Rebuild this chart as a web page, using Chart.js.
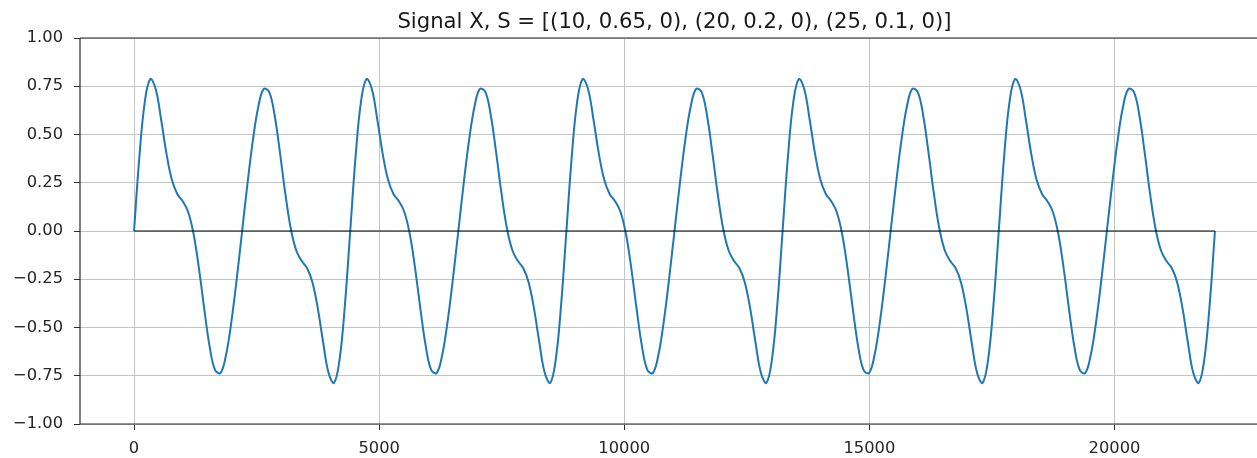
<!DOCTYPE html>
<html><head><meta charset="utf-8">
<script src="https://cdn.jsdelivr.net/npm/chart.js@4"></script>
<style>
html,body{margin:0;padding:0;background:#fff;overflow:hidden;width:1257px;height:458px}
#wrap{position:absolute;left:0;top:0;width:1275px;height:458px}
canvas{display:block}
</style></head>
<body><div id="wrap"><canvas id="c" width="1275" height="458" style="width:1275px;height:458px"></canvas></div>
<script>
const titleText = 'Signal X, S = [(10, 0.65, 0), (20, 0.2, 0), (25, 0.1, 0)]';
const sampleStep = 110.25; // samples between listed readings
const signalValues = [
0,0.389,0.672,0.787,0.736,0.579,0.401,0.265,0.192,0.154,0.100,-0.013,-0.192,-0.406,-0.601,-0.721,-0.736,-0.645,-0.472,-0.248,
0,0.248,0.472,0.645,0.736,0.721,0.601,0.406,0.192,0.013,-0.100,-0.154,-0.192,-0.265,-0.401,-0.579,-0.736,-0.787,-0.672,-0.389,
0,0.389,0.672,0.787,0.736,0.579,0.401,0.265,0.192,0.154,0.100,-0.013,-0.192,-0.406,-0.601,-0.721,-0.736,-0.645,-0.472,-0.248,
0,0.248,0.472,0.645,0.736,0.721,0.601,0.406,0.192,0.013,-0.100,-0.154,-0.192,-0.265,-0.401,-0.579,-0.736,-0.787,-0.672,-0.389,
0,0.389,0.672,0.787,0.736,0.579,0.401,0.265,0.192,0.154,0.100,-0.013,-0.192,-0.406,-0.601,-0.721,-0.736,-0.645,-0.472,-0.248,
0,0.248,0.472,0.645,0.736,0.721,0.601,0.406,0.192,0.013,-0.100,-0.154,-0.192,-0.265,-0.401,-0.579,-0.736,-0.787,-0.672,-0.389,
0,0.389,0.672,0.787,0.736,0.579,0.401,0.265,0.192,0.154,0.100,-0.013,-0.192,-0.406,-0.601,-0.721,-0.736,-0.645,-0.472,-0.248,
0,0.248,0.472,0.645,0.736,0.721,0.601,0.406,0.192,0.013,-0.100,-0.154,-0.192,-0.265,-0.401,-0.579,-0.736,-0.787,-0.672,-0.389,
0,0.389,0.672,0.787,0.736,0.579,0.401,0.265,0.192,0.154,0.100,-0.013,-0.192,-0.406,-0.601,-0.721,-0.736,-0.645,-0.472,-0.248,
0,0.248,0.472,0.645,0.736,0.721,0.601,0.406,0.192,0.013,-0.100,-0.154,-0.192,-0.265,-0.401,-0.579,-0.736,-0.787,-0.672,-0.389,
0
];
const zeroLineX = [0, 22050];
const zeroLineY = [0, 0];
const xTickValues = [0, 5000, 10000, 15000, 20000];
const yTickValues = [-1, -0.75, -0.5, -0.25, 0, 0.25, 0.5, 0.75, 1];
const xMin = -1102.5, xMax = 23152.5;

const signalPoints = signalValues.map((v, i) => ({x: i * sampleStep, y: v}));
const zeroPoints = zeroLineX.map((x, i) => ({x: x, y: zeroLineY[i]}));

const decor = {
  id: 'decor',
  afterDatasetsDraw(chart) {
    const {ctx, chartArea: a} = chart;
    ctx.save();
    ctx.strokeStyle = '#2b2b2b';
    ctx.lineWidth = 1.2;
    ctx.beginPath();
    ctx.moveTo(a.left, a.top); ctx.lineTo(a.right, a.top);
    ctx.moveTo(a.left, a.top); ctx.lineTo(a.left, a.bottom);
    ctx.moveTo(a.left, a.bottom); ctx.lineTo(a.right, a.bottom);
    ctx.moveTo(a.right, a.top); ctx.lineTo(a.right, a.bottom);
    ctx.stroke();
    ctx.fillStyle = '#1a1a1a';
    ctx.font = '21.2px "DejaVu Sans"';
    ctx.textAlign = 'center';
    ctx.textBaseline = 'alphabetic';
    ctx.fillText(titleText, (a.left + a.right) / 2, 28);
    ctx.restore();
  }
};

const tickFont = {family: 'DejaVu Sans', size: 16.3};
new Chart(document.getElementById('c'), {
  type: 'line',
  data: {
    datasets: [
      {data: zeroPoints, borderColor: '#000', borderWidth: 1.2, pointRadius: 0, tension: 0},
      {data: signalPoints, borderColor: '#1f77b4', borderWidth: 2, pointRadius: 0, tension: 0.4}
    ]
  },
  options: {
    responsive: false,
    animation: false,
    devicePixelRatio: 1,
    layout: {padding: {left: 0, right: 6, top: 38, bottom: 0}},
    plugins: {
      legend: {display: false},
      tooltip: {enabled: false},
      title: {display: false}
    },
    scales: {
      x: {
        type: 'linear', min: xMin, max: xMax,
        afterBuildTicks: s => { s.ticks = xTickValues.map(v => ({value: v})); },
        afterFit: s => { s.height = 34; },
        ticks: {font: tickFont, color: '#262626', padding: 9, maxRotation: 0,
          callback: v => String(v)},
        grid: {color: '#c4c4c4', lineWidth: 1, tickColor: '#2b2b2b', tickLength: 6, drawTicks: true},
        border: {display: false}
      },
      y: {
        type: 'linear', min: -1, max: 1,
        afterBuildTicks: s => { s.ticks = yTickValues.map(v => ({value: v})); },
        afterFit: s => { s.width = 80; },
        ticks: {font: tickFont, color: '#262626', padding: 11,
          callback: v => Number(v).toFixed(2).replace('-', '\u2212')},
        grid: {color: '#c4c4c4', lineWidth: 1, tickColor: '#2b2b2b', tickLength: 6, drawTicks: true},
        border: {display: false}
      }
    }
  },
  plugins: [decor]
});
</script>
</body></html>
